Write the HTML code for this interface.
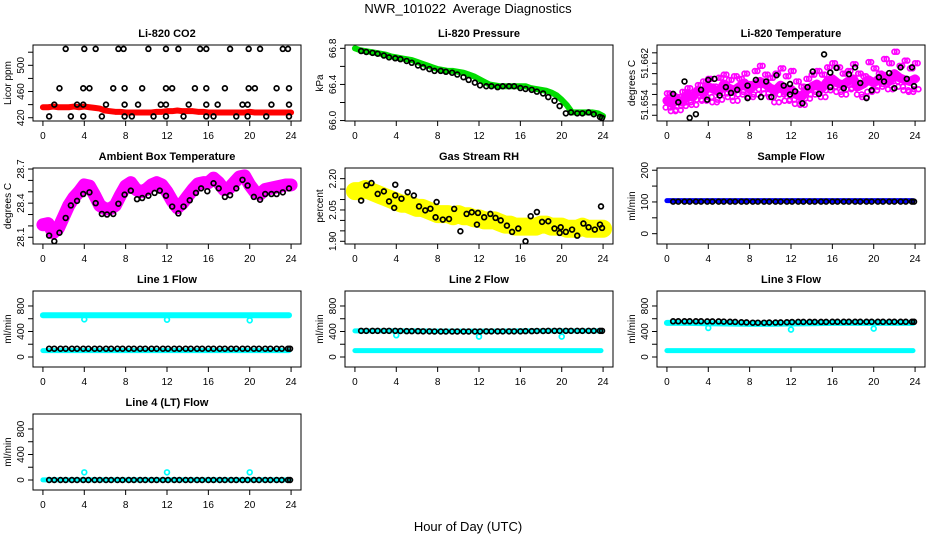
<!DOCTYPE html>
<html><head><meta charset="utf-8"><style>
html,body{margin:0;padding:0;background:#fff;}
svg{display:block;font-family:"Liberation Sans",sans-serif;}
</style></head><body>
<svg id="chart" width="936" height="540" viewBox="0 0 936 540" xmlns="http://www.w3.org/2000/svg">
<rect width="936" height="540" fill="#fff"/>
<text x="468" y="13" font-size="13" text-anchor="middle">NWR_101022&#160; Average Diagnostics</text>
<text x="468" y="531" font-size="13" text-anchor="middle">Hour of Day (UTC)</text>
</svg>
<script>
const xTicks=[0,4,8,12,16,20,24];
const G49=[0,0.5,1,1.5,2,2.5,3,3.5,4,4.5,5,5.5,6,6.5,7,7.5,8,8.5,9,9.5,10,10.5,11,11.5,12,12.5,13,13.5,14,14.5,15,15.5,16,16.5,17,17.5,18,18.5,19,19.5,20,20.5,21,21.5,22,22.5,23,23.5,24];
const BH=[0.6,1.1,1.7,2.2,2.8,3.3,3.9,4.4,5.0,5.5,6.1,6.6,7.2,7.7,8.3,8.8,9.4,9.9,10.5,11.0,11.6,12.1,12.7,13.2,13.8,14.3,14.9,15.4,16.0,16.5,17.1,17.6,18.2,18.7,19.3,19.8,20.4,20.9,21.5,22.0,22.6,23.1,23.7,23.9];
const G13=[0,2,4,6,8,10,12,14,16,18,20,22,23.8];

// CO2
const co2Hours=[2.2,4,5.1,7.3,7.8,10.2,11.9,13.1,15.2,15.8,18.1,19.9,21,23.2,23.7, 1.6,3.9,4.5,6.8,7.9,9.6,11.9,12.5,14.7,15.8,17.6,19.9,20.5,22.6,23.8, 1.1,3.3,3.9,6.1,7.9,9.2,11.4,11.9,14.1,15.8,16.9,19.3,19.8,22.1,23.8, 0.6,2.7,3.9,5.7,7.9,8.6,10.7,11.9,13.6,15.8,16.5,18.7,19.8,21.6,23.8];
const co2Black=[525,525,525,525,525,525,525,525,525,525,525,525,525,525,525, 465,465,465,465,465,465,465,465,465,465,465,465,465,465,465, 440,440,440,440,440,440,440,440,440,440,440,440,440,440,440, 422,422,422,422,422,422,422,422,422,422,422,422,422,422,422];
const co2Red=[436,436,437,436,436,436,437,436,437,436, 435,434,431,430,429,429,428,428,428,428, 428,428,429,429,430,430,431,430,430,430, 429,429,428,428,428,428,428,428,428,428, 429,428,428,428,428,428,428,428,428];

// Pressure
const presBlack=[66.77,66.76,66.75,66.74,66.72,66.70,66.69,66.68,66.66,66.64,66.61,66.59,66.57,66.55,66.55,66.54,66.53,66.51,66.48,66.45,66.42,66.39,66.38,66.38,66.37,66.38,66.38,66.38,66.36,66.35,66.34,66.32,66.30,66.26,66.22,66.16,66.08,66.09,66.08,66.08,66.09,66.07,66.04,66.03];
const presGreen=[66.80,66.78,66.77,66.76,66.75,66.74,66.73,66.71,66.70,66.69, 66.68,66.67,66.65,66.63,66.61,66.59,66.57,66.56,66.55,66.55, 66.54,66.53,66.51,66.49,66.46,66.43,66.40,66.39,66.38,66.38, 66.38,66.38,66.38,66.38,66.36,66.35,66.34,66.33,66.31,66.28, 66.23,66.17,66.09,66.09,66.09,66.09,66.09,66.08,66.05];

// Li-820 temperature
const ltHours=[0.6,1.1,1.7,2.2,2.8,3.3,3.9,4.0,4.6,5.1,5.7,6.2,6.8,7.8,7.8,8.6,9.1,9.6,10.1,10.6,11.3,11.9,11.9,12.4,13.1,13.6,14.1,14.7,15.2,15.8,15.8,16.4,17.1,17.6,18.2,18.7,19.3,19.8,20.5,21.0,21.5,22.0,22.6,23.2,23.7,23.9];
const ltBlack=[51.6561,51.6545,51.6585,51.6515,51.6522,51.6569,51.655,51.6588,51.659,51.6558,51.6574,51.6563,51.6569,51.6577,51.6553,51.6588,51.6555,51.6585,51.6555,51.6597,51.6577,51.658,51.656,51.6566,51.6543,51.6574,51.6604,51.6561,51.6637,51.6602,51.6574,51.6611,51.6572,51.6599,51.6612,51.6582,51.6553,51.6568,51.6593,51.6585,51.6601,51.6572,51.6612,51.659,51.6612,51.6576];
const ltMagA=[51.6562,51.6558,51.6555,51.6565,51.6572,51.6560,51.6578,51.6585,51.6590,51.6575, 51.6592,51.6598,51.6588,51.6595,51.6590,51.6600,51.6580,51.6605,51.6615,51.6598, 51.6592,51.6600,51.6610,51.6595,51.6605,51.6585,51.6575,51.6590,51.6598,51.6605, 51.6598,51.6612,51.6620,51.6612,51.6600,51.6605,51.6618,51.6600,51.6595,51.6622, 51.6610,51.6600,51.6628,51.6620,51.6642,51.6615,51.6625,51.6610,51.6620];
const ltMagB=[51.6548,51.6542,51.6550,51.6545,51.6560,51.6555,51.6568,51.6562,51.6575,51.6570, 51.6565,51.6580,51.6572,51.6568,51.6575,51.6582,51.6570,51.6578,51.6585,51.6580, 51.6572,51.6568,51.6578,51.6565,51.6570,51.6560,51.6555,51.6568,51.6575,51.6580, 51.6572,51.6585,51.6590,51.6582,51.6578,51.6585,51.6590,51.6575,51.6580,51.6588, 51.6582,51.6590,51.6595,51.6585,51.6600,51.6592,51.6588,51.6585,51.6590];
const ltMagC=[51.6535,51.6528,51.6530,51.6538,51.6545,51.6540,51.6550,51.6548,51.6555,51.6545, 51.6550,51.6562,51.6555,51.6548,51.6560,51.6565,51.6555,51.6560,51.6570,51.6562, 51.6555,51.6545,51.6560,51.6548,51.6550,51.6542,51.6540,51.6552,51.6560,51.6565, 51.6555,51.6568,51.6575,51.6565,51.6560,51.6570,51.6572,51.6560,51.6555,51.6565, 51.6568,51.6575,51.6580,51.6570,51.6585,51.6575,51.6568,51.6565,51.6570];

// Ambient box temperature
const abHours=[0.6,1.1,1.6,2.2,2.7,3.3,3.9,4.5,5.1,5.7,6.2,6.8,7.3,7.9,8.5,9.1,9.6,10.2,10.8,11.3,11.9,12.5,13.1,13.6,14.2,14.8,15.3,15.9,16.5,17.0,17.6,18.1,18.7,19.3,19.8,20.4,21.0,21.5,22.1,22.6,23.2,23.8];
const abBlack=[28.115,28.065,28.14,28.27,28.38,28.42,28.48,28.495,28.40,28.305,28.30,28.305,28.395,28.475,28.51,28.435,28.445,28.465,28.49,28.51,28.465,28.37,28.31,28.37,28.425,28.49,28.53,28.505,28.575,28.53,28.455,28.47,28.53,28.605,28.555,28.455,28.43,28.48,28.48,28.48,28.495,28.53];
const abMag=[28.21,28.22,28.14,28.18,28.28,28.38,28.45,28.50,28.56,28.55, 28.47,28.38,28.35,28.35,28.38,28.47,28.55,28.58,28.52,28.50, 28.52,28.56,28.58,28.56,28.50,28.42,28.36,28.40,28.46,28.52, 28.57,28.58,28.58,28.62,28.58,28.52,28.53,28.58,28.63,28.64, 28.56,28.50,28.48,28.52,28.53,28.54,28.55,28.56,28.56];

// Gas stream RH
const rhHours=[0.6,1.1,1.6,2.2,2.8,3.3,3.8,3.9,3.9,4.5,5.1,5.7,6.2,6.8,7.3,7.8,7.9,8.5,9.1,9.6,10.2,10.8,11.3,11.8,11.9,12.5,13.1,13.6,14.1,14.7,15.2,15.8,16.5,17.0,17.6,18.1,18.7,19.3,19.8,19.9,20.4,21.0,21.5,22.1,22.6,23.2,23.7,23.8,23.9];
const rhBlack=[2.095,2.168,2.179,2.127,2.139,2.091,2.06,2.12,2.171,2.104,2.135,2.119,2.067,2.048,2.056,2.015,2.088,2.004,2.007,2.055,1.948,2.031,2.039,1.98,2.036,2.015,2.031,2.012,2.0,1.975,1.945,1.961,1.90,2.02,2.04,1.993,1.996,1.961,1.94,1.967,1.945,1.956,1.927,1.985,1.967,1.956,1.98,2.067,1.964];
const rhYellow=[2.14,2.14,2.15,2.14,2.13,2.12,2.11,2.10,2.09,2.08, 2.08,2.07,2.06,2.06,2.05,2.04,2.03,2.03,2.03,2.02, 2.03,2.02,2.02,2.01,2.01,2.00,2.00,2.00,1.99,1.98, 1.98,1.97,1.97,1.97,1.97,1.97,1.98,1.98,1.97,1.97, 1.97,1.96,1.96,1.96,1.97,1.96,1.96,1.96,1.96];

// Sample flow
const sfBlue=[104,104,104,104,104,104,104,104,104,104,104,104,104];
const sfBlack=[101,101,101,101,101,101,101,101,101,101,101,101,101,101,101,101,101,101,101,101,101,101,101,101,101,101,101,101,101,101,101,101,101,101,101,101,101,101,101,101,101,101,101,101];

// Line flows
const dipHours=[4,12,20];
const l1CyanHi=[655,655,655,655,655,655,655,655,655,655,655,655,655];
const l1CyanLo=[100,100,100,100,100,100,100,100,100,100,100,100,100];
const l1Dips=[590,585,575];
const l1Black=[130,130,130,130,130,130,130,130,130,130,130,130,130,130,130,130,130,130,130,130,130,130,130,130,130,130,130,130,130,130,130,130,130,130,130,130,130,130,130,130,130,130,130,130];
const l2CyanHi=[410,410,410,410,405,405,405,405,410,410,410,410,410];
const l2CyanLo=[100,100,100,100,100,100,100,100,100,100,100,100,100];
const l2Dips=[340,320,320];
const l2Black=[410,410,410,410,410,410,410,408,405,405,405,402,402,400,400,400,400,400,400,400,400,400,402,402,402,402,402,402,402,405,405,408,408,410,410,410,410,410,410,410,410,410,410,410];
const l3CyanHi=[535,535,530,525,520,520,525,530,535,535,535,535,535];
const l3CyanLo=[100,100,100,100,100,100,100,100,100,100,100,100,100];
const l3Dips=[455,430,445];
const l3Black=[560,560,560,560,560,560,558,558,558,555,552,550,545,542,538,538,538,540,540,542,545,548,550,550,550,550,550,550,552,552,552,552,552,552,552,552,552,552,552,552,552,552,552,552];
const l4CyanLo=[2,2,2,2,2,2,2,2,2,2,2,2,2];
const l4Dips=[120,120,120];
const l4Black=[0,0,0,0,0,0,0,0,0,0,0,0,0,0,0,0,0,0,0,0,0,0,0,0,0,0,0,0,0,0,0,0,0,0,0,0,0,0,0,0,0,0,0,0];

const NS='http://www.w3.org/2000/svg';
const svg=document.getElementById('chart');
function mk(tag,attrs,parent){const e=document.createElementNS(NS,tag);for(const k in attrs)e.setAttribute(k,attrs[k]);(parent||svg).appendChild(e);return e;}

const rowTop=[45,168,291,414], BOXH=76, BOXW=268;
function panel(col,row,title,ylab,ylim,ticks,labels,name){
  const L=33+col*312, T=rowTop[row], B=T+BOXH, R=L+BOXW;
  const g=mk('g',{});
  
  
  const sx=h=>L+(h+0.96)/25.92*BOXW;
  const sy=v=>B-(v-ylim[0])/(ylim[1]-ylim[0])*BOXH;
  const t=mk('text',{x:L+BOXW/2,y:T-8,'font-size':11,'font-weight':'bold','text-anchor':'middle'},g);
  t.textContent=title;
  
  
  const yl=mk('text',{x:0,y:0,'font-size':10,'text-anchor':'middle',transform:`translate(${L-22},${(T+B)/2}) rotate(-90)`},g);
  yl.textContent=ylab;
  
  
  xTicks.forEach(h=>{
    mk('line',{x1:sx(h),x2:sx(h),y1:B,y2:B+5,stroke:'#000','stroke-width':1},g);
    const tx=mk('text',{x:sx(h),y:B+18,'font-size':10,'text-anchor':'middle'},g);
    tx.textContent=h;
    
    
  });
  ticks.forEach(v=>{
    mk('line',{x1:L-5,x2:L,y1:sy(v),y2:sy(v),stroke:'#000','stroke-width':1},g);
  });
  labels.forEach(v=>{
    const tx=mk('text',{x:0,y:0,'font-size':10,'text-anchor':'middle',transform:`translate(${L-9},${sy(v)}) rotate(-90)`},g);
    tx.textContent=v;
    
    
  });
  const layer=mk('g',{},g);
  mk('rect',{x:L,y:T,width:BOXW,height:BOXH,fill:'none',stroke:'#000','stroke-width':1},g);
  return {sx,sy,layer};
}
function band(p,hours,vals,color,w,name){
  const n=Math.min(hours.length,vals.length);
  const pts=[];for(let i=0;i<n;i++)pts.push(p.sx(hours[i])+','+p.sy(vals[i]));
  const e=mk('polyline',{points:pts.join(' '),fill:'none',stroke:color,'stroke-width':w,'stroke-linejoin':'round','stroke-linecap':'round'},p.layer);
  
  
}
function pts(p,hours,vals,color,name,dx,sw){
  const n=Math.min(hours.length,vals.length);
  for(let i=0;i<n;i++){
    const c=mk('circle',{cx:p.sx(hours[i]+(dx||0)),cy:p.sy(vals[i]),r:2.4,fill:'none',stroke:color,'stroke-width':sw||1.7},p.layer);
    
    
  }
}
const RED='#ff0000',GRN='#00dd00',MAG='#ff00ff',YEL='#ffff00',BLU='#0000ff',CYN='#00ffff';

let p=panel(0,0,'Li-820 CO2','Licor ppm',[415,531],[420,440,460,480,500,520],[420,460,500],'co2');
band(p,G49,co2Red,RED,6,'co2-red-series');
pts(p,co2Hours,co2Black,'#000','co2-point');

p=panel(1,0,'Li-820 Pressure','kPa',[65.995,66.837],[66.0,66.2,66.4,66.6,66.8],['66.0','66.4','66.8'],'pressure');
band(p,G49,presGreen,GRN,6,'pressure-green-series');
pts(p,BH,presBlack,'#000','pressure-point');

p=panel(2,0,'Li-820 Temperature','degrees C',[51.6509,51.6655],[51.652,51.654,51.656,51.658,51.660,51.662,51.664],['51.654','51.662'],'li-temp');
band(p,G49,ltMagB,MAG,9,'li-temp-magenta-band');
pts(p,G49,ltMagA,MAG,'li-temp-magenta-point');
pts(p,G49,ltMagB,MAG,'li-temp-magenta-point',0.17);
pts(p,G49,ltMagC,MAG,'li-temp-magenta-point',0.33);
pts(p,G49,ltMagA,MAG,'li-temp-magenta-point',0.25);
pts(p,G49,ltMagC,MAG,'li-temp-magenta-point',-0.12);
pts(p,ltHours,ltBlack,'#000','li-temp-point');

p=panel(0,1,'Ambient Box Temperature','degrees C',[28.041,28.709],[28.1,28.2,28.3,28.4,28.5,28.6,28.7],['28.1','28.4','28.7'],'ambient');
band(p,G49,abMag,MAG,13,'ambient-magenta-series');
pts(p,abHours,abBlack,'#000','ambient-point');

p=panel(1,1,'Gas Stream RH','percent',[1.887,2.251],[1.90,1.95,2.00,2.05,2.10,2.15,2.20],['1.90','2.05','2.20'],'rh');
band(p,G49,rhYellow,YEL,18,'rh-yellow-series');
pts(p,rhHours,rhBlack,'#000','rh-point');

p=panel(2,1,'Sample Flow','ml/min',[-32.5,207],[0,50,100,150,200],[0,100,200],'sample-flow');
band(p,G13,sfBlue,BLU,5,'sample-flow-blue-series');
pts(p,BH,sfBlack,'#000','sample-flow-point');

const fT=[0,200,400,600,800], fL=[0,400,800], fY=[-157,1035];
p=panel(0,2,'Line 1 Flow','ml/min',fY,fT,fL,'line1');
band(p,G13,l1CyanHi,CYN,6,'line1-cyan-high');
band(p,G13,l1CyanLo,CYN,5,'line1-cyan-low');
pts(p,dipHours,l1Dips,CYN,'line1-cyan-dip');
pts(p,BH,l1Black,'#000','line1-point');

p=panel(1,2,'Line 2 Flow','ml/min',fY,fT,fL,'line2');
band(p,G13,l2CyanHi,CYN,5,'line2-cyan-high');
band(p,G13,l2CyanLo,CYN,5,'line2-cyan-low');
pts(p,dipHours,l2Dips,CYN,'line2-cyan-dip');
pts(p,BH,l2Black,'#000','line2-point');

p=panel(2,2,'Line 3 Flow','ml/min',fY,fT,fL,'line3');
band(p,G13,l3CyanHi,CYN,6,'line3-cyan-high');
band(p,G13,l3CyanLo,CYN,5,'line3-cyan-low');
pts(p,dipHours,l3Dips,CYN,'line3-cyan-dip');
pts(p,BH,l3Black,'#000','line3-point');

p=panel(0,3,'Line 4 (LT) Flow','ml/min',fY,fT,fL,'line4');
band(p,G13,l4CyanLo,CYN,5,'line4-cyan-series');
pts(p,dipHours,l4Dips,CYN,'line4-cyan-dip');
pts(p,BH,l4Black,'#000','line4-point');
</script>
</body></html>
